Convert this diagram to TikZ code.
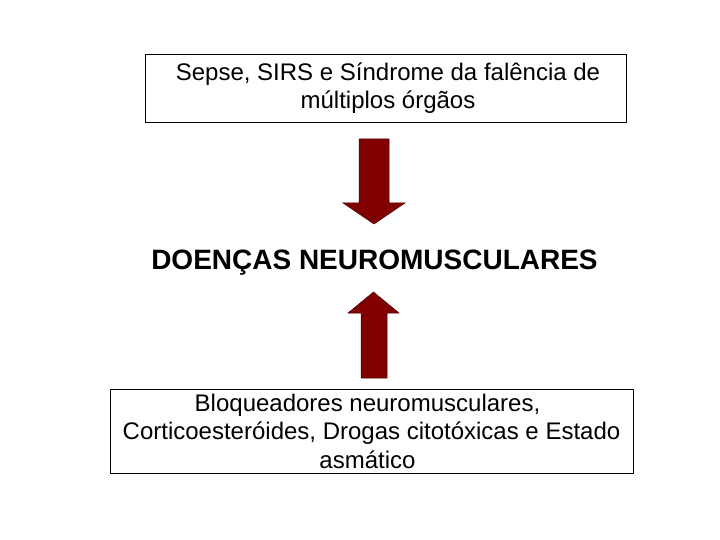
\documentclass[tikz,border=0pt]{standalone}
\usepackage{fontspec}
\setmainfont{Liberation Sans}
\usepackage{tikz}
\definecolor{arrowred}{RGB}{128,0,0}
\definecolor{arrowedge}{RGB}{70,0,0}

\begin{document}
\begin{tikzpicture}[x=1pt,y=-1pt,
  causebox/.style={draw=black,line width=0.8pt,inner sep=0pt,align=center,
    font=\fontsize{24}{28.5}\selectfont},
  blockarrow/.style={fill=arrowred,draw=arrowedge,line width=0.5pt}]
\useasboundingbox (0,0) rectangle (720,540);
\node [causebox,minimum width=481pt,minimum height=68pt] (sepse) at (385.5,88)
{\hspace*{5pt}Sepse, SIRS e Síndrome da falência de\\\hspace*{5pt}múltiplos órgãos};
\node [font=\fontsize{28}{30}\bfseries] (doencas) at (374.5,262.5) {DOENÇAS NEUROMUSCULARES};
\node [causebox,minimum width=523pt,minimum height=84pt] (drogas) at (371.5,431)
{Bloqueadores neuromusculares,\hspace*{8pt}\\Corticoesteróides, Drogas citotóxicas e Estado\hspace*{8pt}\\asmático\hspace*{8pt}};
\draw [blockarrow] (359,139) -- (389,139) -- (389,203) -- (405,203) -- (374,224)
  -- (343,203) -- (359,203) -- cycle;
\draw [blockarrow] (361,378) -- (387,378) -- (387,313) -- (399,313) -- (373.5,292)
  -- (348,313) -- (361,313) -- cycle;
\end{tikzpicture}
\end{document}
